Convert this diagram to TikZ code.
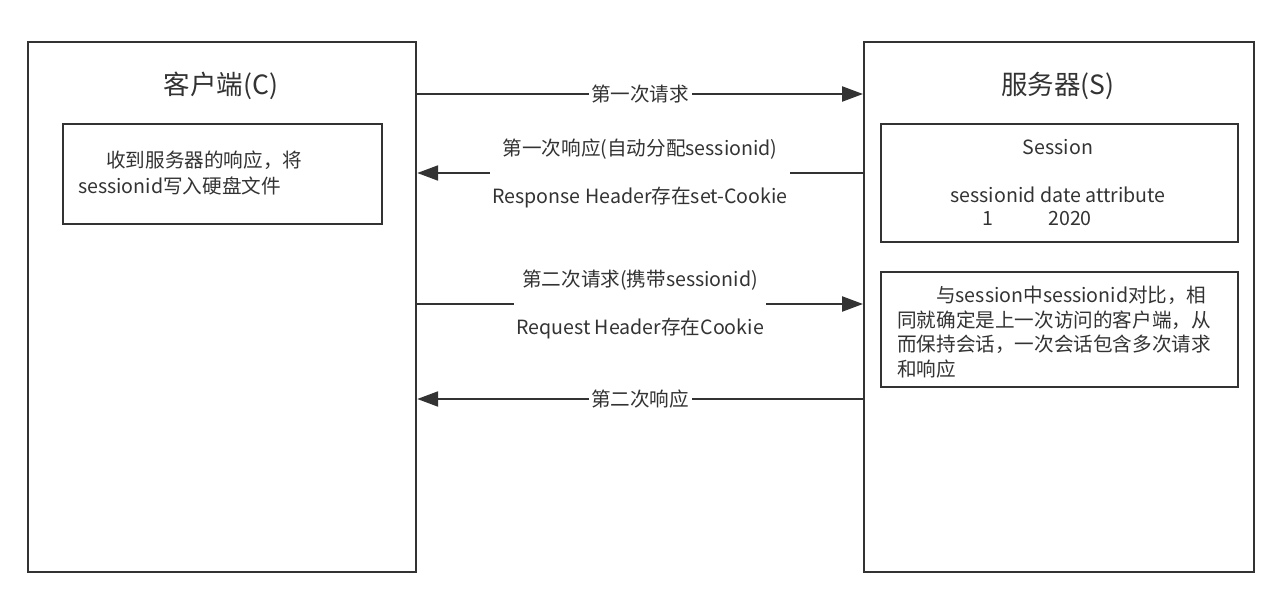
\documentclass[tikz,border=0pt]{standalone}
\usepackage{fontspec}
\setmainfont{Noto Sans CJK SC}
\usetikzlibrary{arrows.meta}
\definecolor{ln}{HTML}{333333}
\begin{document}
\begin{tikzpicture}[x=1pt,y=-1pt,
  frame/.style={draw=ln, line width=2.2pt, inner sep=0pt, anchor=north west},
  arr/.style={draw=ln, line width=2.2pt, -{Triangle[length=21pt,width=15pt]}},
  lbl/.style={fill=white, text=ln, font=\fontsize{19.6}{48}\selectfont, inner sep=2.5pt, align=center},
  txt/.style={text=ln, font=\fontsize{19.6}{25}\selectfont, inner sep=0pt},
  ttl/.style={text=ln, font=\fontsize{26.5}{30}\selectfont, inner sep=0pt}
]
\useasboundingbox (0,0) rectangle (1288,599);
\fill[white] (0,0) rectangle (1288,599);
\node[frame, minimum width=388pt, minimum height=530pt] (client) at (27,41) {};
\node[frame, minimum width=390pt, minimum height=530pt] (server) at (863,41) {};
\node[ttl] (ctitle) at (221,86) {客户端(C)};
\node[ttl] (stitle) at (1058,86) {服务器(S)};
\node[frame, minimum width=319pt, minimum height=100pt] (cbox) at (62,123) {};
\node[frame, minimum width=357pt, minimum height=118pt] (sess) at (880,123) {};
\node[frame, minimum width=357pt, minimum height=115pt] (cmp) at (880,271) {};
\node[txt, anchor=west, align=left, font=\fontsize{19.6}{26}\selectfont] (ctext) at (78,173) {\hspace*{28pt}收到服务器的响应，将\\sessionid写入硬盘文件};
\node[txt] (s1) at (1058,147) {Session};
\node[txt] (s2) at (1058,195) {sessionid date attribute};
\node[txt] (s3) at (988,219) {1};
\node[txt] (s4) at (1070,219) {2020};
\node[txt, anchor=west, align=left, font=\fontsize{19.6}{24.5}\selectfont] (ctx) at (897,332) {\hspace*{39pt}与session中sessionid对比，相\\同就确定是上一次访问的客户端，从\\而保持会话，一次会话包含多次请求\\和响应};
\draw[arr] (client.east |- 0,94) -- (server.west |- 0,94) node[midway, lbl] {第一次请求};
\draw[arr] (server.west |- 0,173) -- (client.east |- 0,173) node[midway, lbl] {第一次响应(自动分配sessionid)\\Response Header存在set-Cookie};
\draw[arr] (client.east |- 0,304) -- (server.west |- 0,304) node[midway, lbl] {第二次请求(携带sessionid)\\Request Header存在Cookie};
\draw[arr] (server.west |- 0,399) -- (client.east |- 0,399) node[midway, lbl] {第二次响应};
\end{tikzpicture}
\end{document}
